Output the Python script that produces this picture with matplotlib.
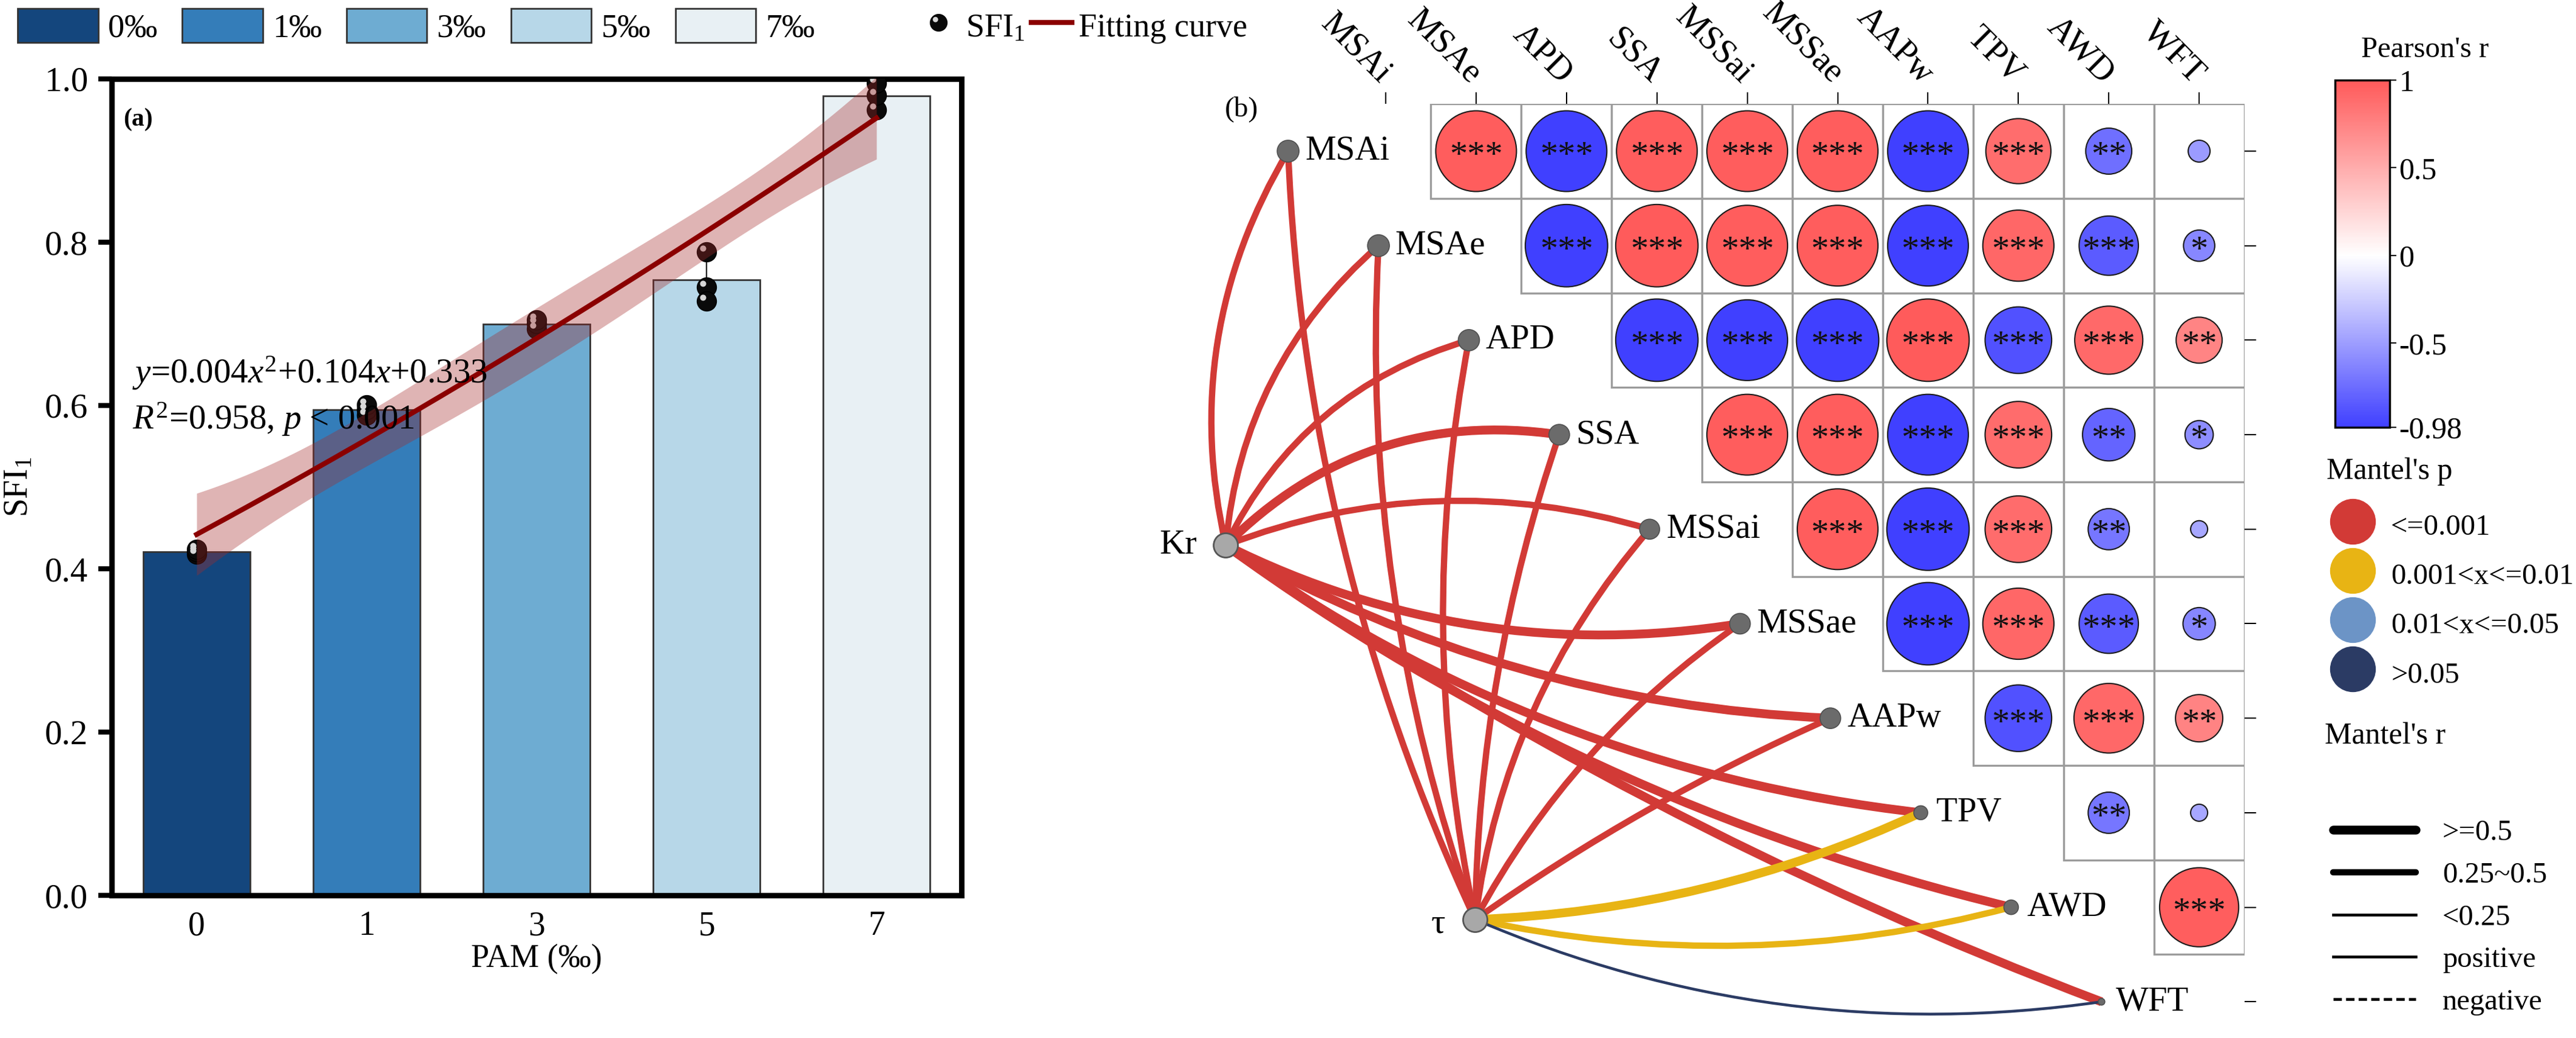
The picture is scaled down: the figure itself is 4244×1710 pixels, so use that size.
import numpy as np
import matplotlib
matplotlib.use("Agg")
import matplotlib.pyplot as plt
from matplotlib.patches import Rectangle, Patch, PathPatch
from matplotlib.lines import Line2D
from matplotlib.path import Path
from matplotlib.colors import LinearSegmentedColormap, Normalize
from matplotlib.colorbar import ColorbarBase
from matplotlib.legend_handler import HandlerTuple

plt.rcParams['font.family'] = ['Liberation Serif', 'DejaVu Serif']
plt.rcParams['mathtext.fontset'] = 'custom'
plt.rcParams['mathtext.rm'] = 'Liberation Serif'
plt.rcParams['mathtext.it'] = 'Liberation Serif:italic'
plt.rcParams['mathtext.bf'] = 'Liberation Serif:bold'

# ======================= DATA: panel (a) =======================
pam_ticks = ['0', '1', '3', '5', '7']
pam_legend = ['0‰', '1‰', '3‰', '5‰', '7‰']
sfi_rep1 = [0.418, 0.588, 0.694, 0.788, 0.962]
sfi_rep2 = [0.421, 0.595, 0.700, 0.745, 0.980]
sfi_rep3 = [0.424, 0.601, 0.705, 0.728, 0.995]
eq_text = r'$y$=0.004$x^2$+0.104$x$+0.333'
stat_text = r'$R^2$=0.958, $p$ < 0.001'

# ======================= DATA: panel (b) =======================
variables = ['MSAi', 'MSAe', 'APD', 'SSA', 'MSSai', 'MSSae', 'AAPw', 'TPV', 'AWD', 'WFT']
pearson_rows = [
    [0.98, -0.98, 0.98, 0.98, 0.98, -0.98, 0.88, -0.74, -0.51],
    [-0.99, 0.99, 0.98, 0.98, -0.98, 0.92, -0.84, -0.61],
    [-0.99, -0.98, -0.99, 0.99, -0.89, 0.90, 0.74],
    [0.98, 0.98, -0.98, 0.89, -0.79, -0.58],
    [0.98, -0.99, 0.89, -0.70, -0.45],
    [-0.99, 0.92, -0.84, -0.62],
    [-0.89, 0.91, 0.75],
    [-0.70, -0.45],
    [0.97],
]
signif_rows = [
    ['***', '***', '***', '***', '***', '***', '***', '**', ''],
    ['***', '***', '***', '***', '***', '***', '***', '*'],
    ['***', '***', '***', '***', '***', '***', '**'],
    ['***', '***', '***', '***', '**', '*'],
    ['***', '***', '***', '**', ''],
    ['***', '***', '***', '*'],
    ['***', '***', '**'],
    ['**', ''],
    ['***'],
]
env_names = ['Kr', 'τ']
mantel_r_kr = [0.40, 0.40, 0.35, 0.55, 0.35, 0.55, 0.60, 0.55, 0.50, 0.50]
mantel_p_kr = [0.001, 0.001, 0.001, 0.001, 0.001, 0.001, 0.001, 0.001, 0.001, 0.001]
mantel_r_tau = [0.45, 0.45, 0.40, 0.40, 0.40, 0.45, 0.45, 0.50, 0.30, 0.10]
mantel_p_tau = [0.001, 0.001, 0.001, 0.001, 0.001, 0.001, 0.001, 0.005, 0.008, 0.20]
cbar_ticks = [1, 0.5, 0, -0.5, -0.98]
cbar_ticklabels = ['1', '0.5', '0', '-0.5', '-0.98']
p_labels = ['<=0.001', '0.001<x<=0.01', '0.01<x<=0.05', '>0.05']
r_labels = ['>=0.5', '0.25~0.5', '<0.25', 'positive', 'negative']

# ======================= STYLE =======================
W, H = 4244, 1710
DPI = 100
FS = 39
BFS = 41
bar_colors = ['#14467D', '#347DB9', '#6EACD2', '#B7D7E8', '#E8F0F4']
fit_color = '#8B0000'
band_color = '#A52A2A'
p_colors = ['#D23A36', '#E8B414', '#6C94C6', '#2B3B64']
cmap = LinearSegmentedColormap.from_list(
    'pr', [(0.0, '#4040FF'), (0.98 / 1.98, '#FFFFFF'), (1.0, '#FF5A5A')])
norm = Normalize(vmin=-0.98, vmax=1.0)
PX = 72.0 / DPI  # points per pixel

fig = plt.figure(figsize=(W / DPI, H / DPI), dpi=DPI)


def fig_rect(x0, y0, x1, y1):
    return [x0 / W, 1 - y1 / H, (x1 - x0) / W, (y1 - y0) / H]


# ======================= PANEL (a) =======================
ax = fig.add_axes(fig_rect(184, 130, 1584, 1475))
reps = np.array([sfi_rep1, sfi_rep2, sfi_rep3])
means = reps.mean(axis=0)
sds = reps.std(axis=0, ddof=1)
xpos = np.arange(len(pam_ticks))

ax.bar(xpos, means, width=0.63, color=bar_colors, edgecolor='#333333',
       linewidth=2.0, zorder=2)
ax.errorbar(xpos, means, yerr=sds, fmt='none', ecolor='black', elinewidth=1.5,
            capsize=0, zorder=3)

# sphere-like points
hl_path = Path.circle(center=(-0.3, 0.3), radius=0.25)
for k in range(reps.shape[0]):
    ax.plot(xpos, reps[k], ls='none', marker='o', ms=23, mfc='#0a0a0a',
            mec='black', mew=1.0, zorder=4)
    ax.plot(xpos, reps[k], ls='none', marker=hl_path, ms=16, mfc='#d8d8d8',
            mec='none', zorder=4.1)

# quadratic fit with 95% confidence band (x coded 1..5)
xf = np.tile(xpos + 1.0, reps.shape[0])
yf = reps.ravel()
X = np.column_stack([np.ones_like(xf), xf, xf ** 2])
beta, _, _, _ = np.linalg.lstsq(X, yf, rcond=None)
resid = yf - X @ beta
dof = len(yf) - 3
s2 = resid @ resid / dof
XtXi = np.linalg.inv(X.T @ X)
xg = np.linspace(0, len(pam_ticks) - 1, 200)
Xg = np.column_stack([np.ones_like(xg), xg + 1, (xg + 1) ** 2])
yg = Xg @ beta
se = np.sqrt(s2 * np.einsum('ij,jk,ik->i', Xg, XtXi, Xg))
tval = 2.179
ax.fill_between(xg, yg - tval * se, yg + tval * se, color=band_color,
                alpha=0.35, lw=0, zorder=5)
ax.plot(xg, yg, color=fit_color, lw=6, zorder=6)

ax.set_xlim(-0.5, len(pam_ticks) - 0.5)
ax.set_ylim(0, 1.0)
ax.set_xticks(xpos)
ax.set_xticklabels(pam_ticks)
ax.set_yticks([0, 0.2, 0.4, 0.6, 0.8, 1.0])
ax.set_yticklabels(['0.0', '0.2', '0.4', '0.6', '0.8', '1.0'])
ax.tick_params(axis='x', length=0, pad=18, labelsize=FS + 1)
ax.tick_params(axis='y', length=16, width=6, pad=12, labelsize=FS + 2, direction='out')
for sp in ax.spines.values():
    sp.set_linewidth(6.5)
ax.set_xlabel('PAM (‰)', fontsize=FS, labelpad=2)
ax.set_ylabel('SFI$_1$', fontsize=FS + 1, labelpad=12)
ax.text(-0.38, 0.640, eq_text, fontsize=FS + 2, va='center', ha='left', zorder=7)
ax.text(-0.38, 0.583, stat_text, fontsize=FS + 2, va='center', ha='left', zorder=7)
ax.text(0.014, 0.95, '(a)', transform=ax.transAxes, fontsize=30,
        fontweight='bold', va='center', ha='left')

# legends (a)
handles = [Patch(facecolor=c, edgecolor='#333333', linewidth=2.0) for c in bar_colors]
fig.legend(handles, pam_legend, loc='upper left', bbox_to_anchor=(29 / W, 1 - 14 / H),
           ncol=5, frameon=False, fontsize=FS, handlelength=2.45, handleheight=1.2,
           handletextpad=0.3, columnspacing=0.75, borderpad=0, borderaxespad=0)
sph = (Line2D([], [], ls='none', marker='o', ms=20, mfc='#0a0a0a', mec='black'),
       Line2D([], [], ls='none', marker=hl_path, ms=14, mfc='#d8d8d8', mec='none'))
fig.legend([sph, Line2D([], [], color=fit_color, lw=6)], ['SFI$_1$', 'Fitting curve'],
           loc='upper left', bbox_to_anchor=(1512 / W, 1 - 14 / H), ncol=2,
           frameon=False, fontsize=FS, handlelength=1.25, handleheight=1.2,
           handletextpad=0.2, columnspacing=0.2, borderpad=0, borderaxespad=0,
           handler_map={tuple: HandlerTuple(ndivide=1, pad=0)})

# ======================= PANEL (b) =======================
CW, CH = 148.9, 155.7
x_left = 2283 - 2.5 * CW
y_top = 249 - 0.5 * CH
bx = fig.add_axes(fig_rect(x_left, y_top, x_left + 12 * CW, y_top + 10 * CH))
bx.set_xlim(-2.5, 9.5)
bx.set_ylim(9.5, -0.5)
for sp in bx.spines.values():
    sp.set_visible(False)
n = len(variables)

# grid cells and circles
cx, cy, cr = [], [], []
for i, row in enumerate(pearson_rows):
    for k, r in enumerate(row):
        j = i + 1 + k
        bx.add_patch(Rectangle((j - 0.5, i - 0.5), 1, 1, facecolor='white',
                               edgecolor='#9C9C9C', lw=2.4, zorder=1))
        cx.append(j); cy.append(i); cr.append(r)
cr = np.array(cr)
diam_pt = 0.93 * CW * cr ** 2 * PX
bx.scatter(cx, cy, s=diam_pt ** 2, c=cr, cmap=cmap, norm=norm,
           edgecolors='#1a1a1a', linewidths=1.5, zorder=3)
for i, row in enumerate(signif_rows):
    for k, st in enumerate(row):
        if st:
            bx.text(i + 1 + k, i + 0.15, st, ha='center', va='baseline',
                    fontsize=42, color='#111111', zorder=4)

# ticks
bx.xaxis.tick_top()
bx.set_xticks(range(n))
bx.set_xticklabels(variables, rotation=-45, rotation_mode='anchor',
                   ha='right', va='center', fontsize=BFS)
bx.tick_params(axis='x', length=14, width=1.5, pad=16)
bx.yaxis.tick_right()
bx.set_yticks(range(n))
bx.set_yticklabels([''] * n)
bx.tick_params(axis='y', length=14, width=1.5)

# nodes
var_nodes = [(i - 1.08, i) for i in range(n)]
env_nodes = [(-1.77, 4.17), (0.99, 8.13)]
var_node_px = [36, 36, 35, 34, 33, 34, 34, 23, 24, 11]
kr_curv = [0.20, 0.20, 0.22, 0.25, 0.17, -0.16, -0.12, -0.13, -0.10, -0.06]
tau_curv = [0.10, 0.10, 0.10, 0.08, 0.15, 0.12, 0.05, -0.10, -0.12, -0.14]


def p_color(p):
    if p <= 0.001:
        return p_colors[0]
    if p <= 0.01:
        return p_colors[1]
    if p <= 0.05:
        return p_colors[2]
    return p_colors[3]


def r_width(r):
    if r >= 0.5:
        return 14.5 * PX
    if r >= 0.25:
        return 10.4 * PX
    return 4.6 * PX


def draw_link(p0, p1, kcurv, color, lw):
    x0, y0 = p0[0] * CW, -p0[1] * CH
    x1, y1 = p1[0] * CW, -p1[1] * CH
    mx, my = (x0 + x1) / 2, (y0 + y1) / 2
    dx, dy = x1 - x0, y1 - y0
    qx, qy = mx - kcurv * dy, my + kcurv * dx
    verts = [(x0 / CW, -y0 / CH), (qx / CW, -qy / CH), (x1 / CW, -y1 / CH)]
    path = Path(verts, [Path.MOVETO, Path.CURVE3, Path.CURVE3])
    bx.add_patch(PathPatch(path, fill=False, edgecolor=color, lw=lw,
                           capstyle='butt', zorder=2))


for e, (rs, ps, cv) in enumerate([(mantel_r_kr, mantel_p_kr, kr_curv),
                                  (mantel_r_tau, mantel_p_tau, tau_curv)]):
    for v in range(n):
        draw_link(env_nodes[e], var_nodes[v], cv[v], p_color(ps[v]), r_width(rs[v]))

vx = [p[0] for p in var_nodes]
vy = [p[1] for p in var_nodes]
bx.scatter(vx, vy, s=(np.array(var_node_px) * PX) ** 2, color='#6B6B6B',
           edgecolors='#505050', linewidths=1.2, zorder=5)
for v in range(n):
    bx.text(vx[v] + 0.15 + var_node_px[v] / 2 / CW * 0.3, vy[v], variables[v],
            ha='left', va='center', fontsize=BFS, zorder=6)
ex = [p[0] for p in env_nodes]
ey = [p[1] for p in env_nodes]
bx.scatter(ex, ey, s=(40 * PX) ** 2, color='#A8A8A8', edgecolors='#555555',
           linewidths=2, zorder=5)
bx.text(ex[0] - 0.32, ey[0], env_names[0], ha='right', va='center', fontsize=BFS + 1)
bx.text(ex[1] - 0.33, ey[1] + 0.05, env_names[1], ha='right', va='center', fontsize=BFS + 1)
fig.text(2045 / W, 1 - 180 / H, '(b)', ha='center', va='center', fontsize=34)

# colorbar
cax = fig.add_axes(fig_rect(3847, 132, 3937, 704))
cb = ColorbarBase(cax, cmap=cmap, norm=norm, orientation='vertical')
cb.set_ticks(cbar_ticks)
cb.set_ticklabels(cbar_ticklabels)
cb.outline.set_linewidth(2.5)
cax.tick_params(length=8, width=1.5, labelsize=36, pad=3)
fig.text(3995 / W, 1 - 82 / H, "Pearson's r", ha='center', va='center', fontsize=35)

# Mantel's p legend
LFS = 35
fig.text(3833 / W, 1 - 777 / H, "Mantel's p", ha='left', va='center', fontsize=LFS + 1)
ph = [Line2D([], [], ls='none', marker='o', ms=74 * PX, mfc=c, mec=c) for c in p_colors]
fig.legend(ph, p_labels, loc='upper left', bbox_to_anchor=(3837 / W, 1 - 836 / H),
           frameon=False, fontsize=LFS, handlelength=1.6, handleheight=1.48,
           handletextpad=0.5, labelspacing=0.46, borderpad=0, borderaxespad=0)

# Mantel's r legend
fig.text(3830 / W, 1 - 1213 / H, "Mantel's r", ha='left', va='center', fontsize=LFS + 1)
rh = [Line2D([], [], color='black', lw=14.5 * PX, solid_capstyle='round'),
      Line2D([], [], color='black', lw=10.4 * PX, solid_capstyle='round'),
      Line2D([], [], color='black', lw=4.6 * PX),
      Line2D([], [], color='black', lw=4.6 * PX, ls='-'),
      Line2D([], [], color='black', lw=4.6 * PX, ls=(0, (3, 1.5)))]
fig.legend(rh, r_labels, loc='upper left', bbox_to_anchor=(3844 / W, 1 - 1350 / H),
           frameon=False, fontsize=LFS, handlelength=2.8, handletextpad=0.9,
           labelspacing=0.53, borderpad=0, borderaxespad=0)

fig.savefig('out.png', dpi=DPI)
